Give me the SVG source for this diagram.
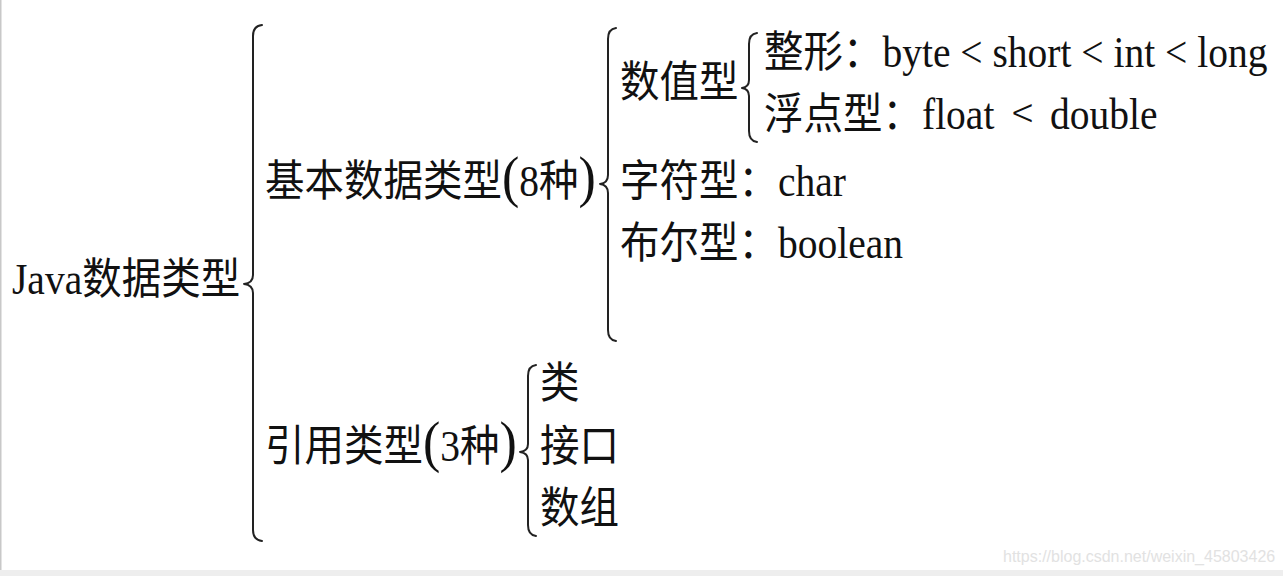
<svg xmlns="http://www.w3.org/2000/svg" width="1283" height="576" viewBox="0 0 1283 576">
<style>
.t{font-family:"Liberation Serif","Noto Sans CJK SC",serif;font-size:39.5px;fill:#111;}
.p{font-size:52px;}
.lt{font-family:"Noto Sans CJK SC",sans-serif;font-weight:300;}
.br{fill:none;stroke:#222;stroke-width:2;stroke-linecap:round;stroke-linejoin:round;}
.wm{font-family:"Liberation Sans",Arial,sans-serif;font-size:16px;fill:#e2e2e2;}
</style>
<rect x="0" y="0" width="1283" height="576" fill="#ffffff"/>
<rect x="0" y="0" width="1.5" height="576" fill="#c8c8c8"/>
<rect x="0" y="570" width="1283" height="6" fill="#eeeeee"/>
<g id="connectors">
<path class="br" d="M262,25 Q253,26 253,36 L253,275 Q253,283 244,284 Q253,285 253,293 L253,530 Q253,540 262,541"/>
<path class="br" d="M616,28 Q608,29 608,39 L608,175 Q608,183 600,184 Q608,185 608,193 L608,330 Q608,340 616,341"/>
<path class="br" d="M757,33 Q749,34 749,44 L749,80 Q749,87 742,88 Q749,89 749,96 L749,131 Q749,141 757,142"/>
<path class="br" d="M536,365 Q528,366 528,376 L528,444 Q528,451 520,452 Q528,453 528,460 L528,525 Q528,535 536,536"/>
</g>
<g id="root"><text class="t" transform="translate(12 294) scale(1 1.1)">Java数据类型</text></g>
<g id="basic"><text class="t" transform="translate(265 196) scale(1 1.1)">基本数据类型<tspan class="p">(</tspan>8种<tspan class="p">)</tspan></text></g>
<g id="numeric"><text class="t" transform="translate(620 97) scale(1 1.1)">数值型</text></g>
<g id="integer"><text class="t" transform="translate(764 67) scale(1 1.1)">整形：byte &lt; short &lt; int &lt; long</text></g>
<g id="float"><text class="t" transform="translate(764 129) scale(1 1.1)">浮点型：<tspan x="158">float</tspan><tspan x="248" class="lt">&lt;</tspan><tspan x="286">double</tspan></text></g>
<g id="char"><text class="t" transform="translate(620 196) scale(1 1.1)">字符型：char</text></g>
<g id="boolean"><text class="t" transform="translate(620 258) scale(1 1.1)">布尔型：boolean</text></g>
<g id="reference"><text class="t" transform="translate(265 461) scale(1 1.1)">引用类型<tspan class="p">(</tspan>3种<tspan class="p">)</tspan></text></g>
<g id="class"><text class="t" transform="translate(540 398) scale(1 1.1)">类</text></g>
<g id="interface"><text class="t" transform="translate(540 461) scale(1 1.1)">接口</text></g>
<g id="array"><text class="t" transform="translate(540 523) scale(1 1.1)">数组</text></g>
<text class="wm" x="1003" y="562">https://blog.csdn.net/weixin_45803426</text>
</svg>
